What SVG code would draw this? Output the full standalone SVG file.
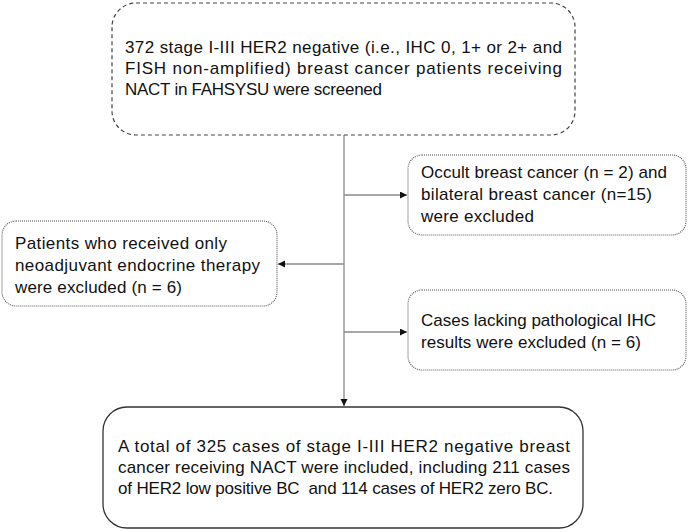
<svg xmlns="http://www.w3.org/2000/svg" width="688" height="532" viewBox="0 0 688 532">
<defs>
<marker id="arr" markerWidth="8" markerHeight="8" refX="7" refY="3.5" orient="auto" markerUnits="userSpaceOnUse">
<path d="M0,0 L7,3.5 L0,7 Z" fill="#111"/>
</marker>
<style>
text{font-family:"Liberation Sans",Arial,sans-serif;font-size:17px;fill:#111}
.dash{fill:#fff;stroke:#444;stroke-width:1.2;stroke-dasharray:4 3}
.dot{fill:#fff;stroke:#555;stroke-width:1.1;stroke-dasharray:1 1}
.solid{fill:#fff;stroke:#333;stroke-width:1.3}
.con{fill:none;stroke:#8a8a8a;stroke-width:1.3}
</style>
</defs>
<rect width="688" height="532" fill="#fff"/>
<g id="connectors">
<line class="con" x1="344" y1="135" x2="344" y2="406" marker-end="url(#arr)"/>
<line class="con" x1="344" y1="195" x2="407" y2="195" marker-end="url(#arr)"/>
<line class="con" x1="344" y1="264" x2="278" y2="264" marker-end="url(#arr)"/>
<line class="con" x1="344" y1="332" x2="407" y2="332" marker-end="url(#arr)"/>
</g>
<g id="screened">
<rect class="dash" x="112" y="3" width="463" height="132" rx="24"/>
<text x="125" y="53" textLength="437" lengthAdjust="spacing">372 stage I-III HER2 negative (i.e., IHC 0, 1+ or 2+ and</text>
<text x="125" y="74" textLength="437" lengthAdjust="spacing">FISH non-amplified) breast cancer patients receiving</text>
<text x="125" y="95" textLength="257" lengthAdjust="spacing">NACT in FAHSYSU were screened</text>
</g>
<g id="excl-occult">
<rect class="dot" x="408" y="155" width="278" height="80" rx="14"/>
<text x="421" y="178" textLength="246" lengthAdjust="spacing">Occult breast cancer (n = 2) and</text>
<text x="421" y="200" textLength="231" lengthAdjust="spacing">bilateral breast cancer (n=15)</text>
<text x="421" y="222" textLength="113" lengthAdjust="spacing">were excluded</text>
</g>
<g id="excl-endocrine">
<rect class="dot" x="2" y="221" width="275" height="85" rx="14"/>
<text x="15" y="249" textLength="212" lengthAdjust="spacing">Patients who received only</text>
<text x="15" y="271" textLength="245" lengthAdjust="spacing">neoadjuvant endocrine therapy</text>
<text x="15" y="293" textLength="167" lengthAdjust="spacing">were excluded (n = 6)</text>
</g>
<g id="excl-ihc">
<rect class="dot" x="408" y="290" width="278" height="80" rx="14"/>
<text x="421" y="326" textLength="235" lengthAdjust="spacing">Cases lacking pathological IHC</text>
<text x="421" y="348" textLength="220" lengthAdjust="spacing">results were excluded (n = 6)</text>
</g>
<g id="included">
<rect class="solid" x="103" y="407" width="480" height="121" rx="24"/>
<text x="118" y="452" textLength="452" lengthAdjust="spacing">A total of 325 cases of stage I-III HER2 negative breast</text>
<text x="118" y="473" textLength="452" lengthAdjust="spacing">cancer receiving NACT were included, including 211 cases</text>
<text x="118" y="494" textLength="435" lengthAdjust="spacing" style="white-space:pre">of HER2 low positive BC  and 114 cases of HER2 zero BC.</text>
</g>
</svg>
